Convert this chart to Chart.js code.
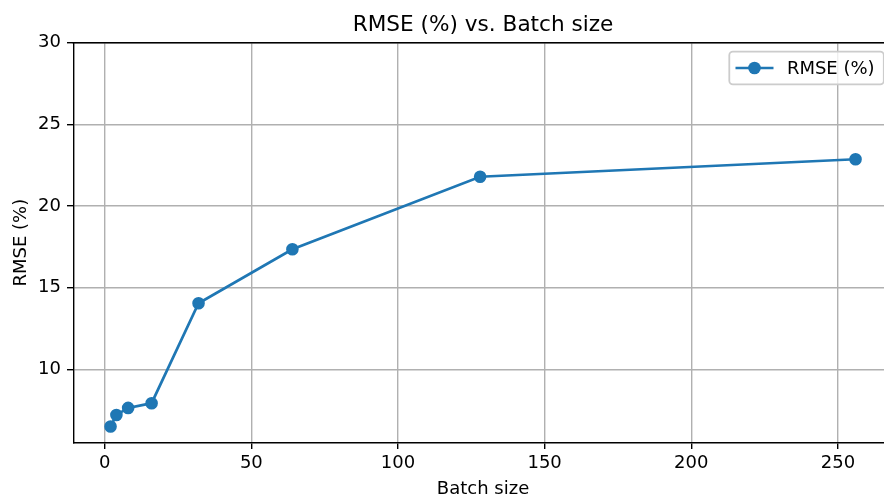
<!DOCTYPE html>
<html>
<head>
<meta charset="utf-8">
<title>RMSE (%) vs. Batch size</title>
<script src="https://cdn.jsdelivr.net/npm/chart.js@4.4.1/dist/chart.umd.min.js"></script>
<style>
  html, body { margin: 0; padding: 0; background: #fff; width: 884px; height: 498px; overflow: hidden; }
  canvas { display: block; }
</style>
</head>
<body>
<canvas id="c" width="900" height="498"></canvas>
<script>
// Measured RMSE for each training batch size
const batchSizes = [2, 4, 8, 16, 32, 64, 128, 256];
const rmseValues = [6.49, 7.2, 7.63, 7.92, 14.04, 17.35, 21.79, 22.86];

// Axis ticks and text
const xTicks = [0, 50, 100, 150, 200, 250];
const yTicks = [10, 15, 20, 25, 30];
const seriesLabel = 'RMSE (%)';
const chartTitle = 'RMSE (%) vs. Batch size';
const xTitle = 'Batch size';
const yTitle = 'RMSE (%)';

const FONT = "'DejaVu Sans', 'Liberation Sans', sans-serif";
const BLUE = '#1f77b4';
const GRID = '#b0b0b0';
const LW = 1.4;      // spine / grid width
const TICK_LEN = 6.3;

Chart.defaults.font.family = FONT;
Chart.defaults.color = '#000';

// Title centred over the plot area, plus the top spine
const axesFrame = {
  id: 'axesFrame',
  afterDraw(chart) {
    const { ctx, chartArea: a } = chart;
    ctx.save();
    ctx.strokeStyle = '#000';
    ctx.lineWidth = LW;
    ctx.beginPath();
    ctx.moveTo(a.left - LW / 2, a.top);
    ctx.lineTo(a.right + LW / 2, a.top);
    ctx.stroke();
    ctx.fillStyle = '#000';
    ctx.font = '21.6px ' + FONT;
    ctx.textAlign = 'center';
    ctx.textBaseline = 'alphabetic';
    ctx.fillText(chart.options.plugins.axesFrame.text, (a.left + a.right) / 2, a.top - 11.7);
    ctx.restore();
  }
};

// Framed legend in the upper right corner of the plot area
const boxLegend = {
  id: 'boxLegend',
  afterDraw(chart) {
    const { ctx, chartArea: a } = chart;
    const ds = chart.data.datasets[0];
    const fs = 18;
    ctx.save();
    ctx.font = fs + 'px ' + FONT;
    const tw = ctx.measureText(ds.label).width;
    const pad = 0.4 * fs, handle = 2.0 * fs, gap = 0.8 * fs;
    const w = pad + handle + gap + tw + pad + 2;
    const h = 32.6;
    const right = a.right - 9;
    const top = a.top + 9;
    const left = right - w;
    // frame
    ctx.beginPath();
    ctx.roundRect(left, top, w, h, 3.6);
    ctx.fillStyle = 'rgba(255,255,255,0.8)';
    ctx.fill();
    ctx.strokeStyle = '#cccccc';
    ctx.lineWidth = 1.8;
    ctx.stroke();
    // handle: line + marker
    const cy = top + h / 2;
    const hx0 = left + pad - 1;
    ctx.strokeStyle = ds.borderColor;
    ctx.lineWidth = ds.borderWidth;
    ctx.beginPath();
    ctx.moveTo(hx0, cy);
    ctx.lineTo(hx0 + handle + 2, cy);
    ctx.stroke();
    ctx.fillStyle = ds.pointBackgroundColor;
    ctx.beginPath();
    ctx.arc(hx0 + handle / 2 + 1, cy, ds.pointRadius + ds.pointBorderWidth / 2, 0, Math.PI * 2);
    ctx.fill();
    // text
    ctx.fillStyle = '#000';
    ctx.textBaseline = 'middle';
    ctx.textAlign = 'left';
    ctx.fillText(ds.label, hx0 + handle + gap + 1, cy + 1);
    ctx.restore();
  }
};

new Chart(document.getElementById('c'), {
  type: 'line',
  data: {
    datasets: [{
      label: seriesLabel,
      data: batchSizes.map((b, i) => ({ x: b, y: rmseValues[i] })),
      borderColor: BLUE,
      backgroundColor: BLUE,
      pointBackgroundColor: BLUE,
      pointBorderColor: BLUE,
      pointBorderWidth: 1.8,
      pointRadius: 5.4,
      borderWidth: 2.7,
      tension: 0,
      fill: false
    }]
  },
  options: {
    responsive: false,
    animation: false,
    devicePixelRatio: 1,
    layout: { padding: { left: 0, right: 6, top: 42.7, bottom: 0 } },
    plugins: {
      legend: { display: false },
      tooltip: { enabled: false },
      title: { display: false },
      axesFrame: { text: chartTitle }
    },
    scales: {
      x: {
        type: 'linear',
        min: -10.7,
        max: 268.7,
        afterBuildTicks(scale) { scale.ticks = xTicks.map(v => ({ value: v })); },
        afterFit(scale) { scale.height = 55.3; },
        ticks: { font: { size: 18 }, padding: 3.5, maxRotation: 0, autoSkip: false, callback: v => String(v) },
        grid: { color: GRID, lineWidth: LW, tickColor: '#000', tickWidth: LW, tickLength: TICK_LEN, drawTicks: true },
        border: { display: true, color: '#000', width: LW },
        title: { display: true, text: xTitle, font: { size: 18, lineHeight: 1 }, padding: { top: 0, bottom: 0 } }
      },
      y: {
        type: 'linear',
        min: 5.5,
        max: 30,
        afterBuildTicks(scale) { scale.ticks = yTicks.map(v => ({ value: v })); },
        afterFit(scale) { scale.width = 73.3; },
        ticks: { font: { size: 18 }, padding: 6, autoSkip: false, callback: v => String(v) },
        grid: { color: GRID, lineWidth: LW, tickColor: '#000', tickWidth: LW, tickLength: TICK_LEN, drawTicks: true },
        border: { display: true, color: '#000', width: LW },
        title: { display: true, text: yTitle, font: { size: 18, lineHeight: 1 }, padding: { top: 12, bottom: 0 } }
      }
    }
  },
  plugins: [axesFrame, boxLegend]
});
</script>
</body>
</html>
